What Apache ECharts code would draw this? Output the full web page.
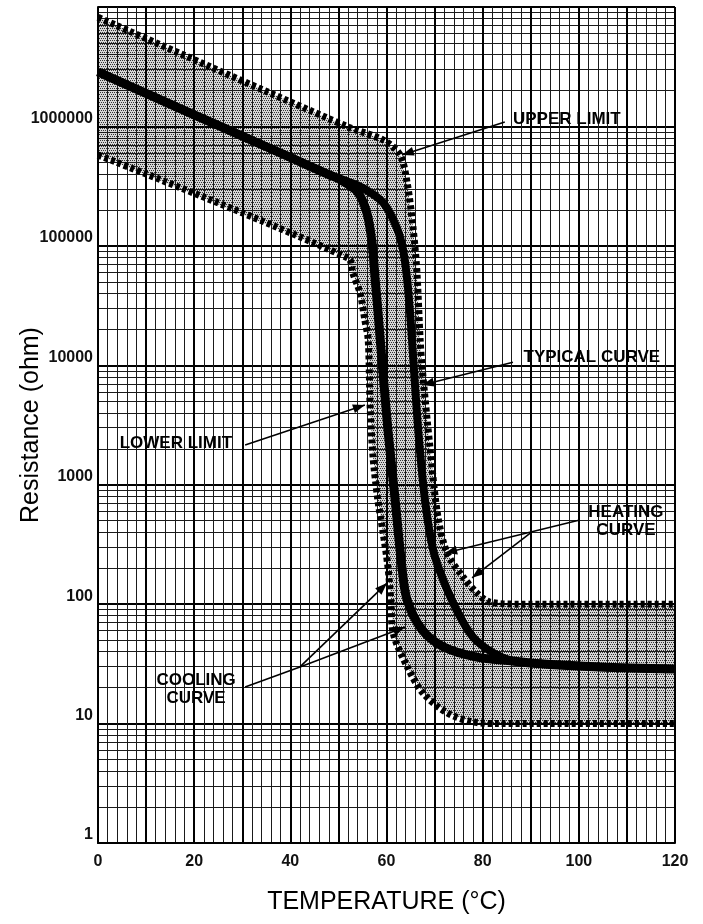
<!DOCTYPE html>
<html>
<head>
<meta charset="utf-8">
<script src="https://cdn.jsdelivr.net/npm/echarts@6/dist/echarts.min.js"></script>
<style>
  html, body { margin: 0; padding: 0; background: #fff; }
  #chart { width: 703px; height: 924px; }
</style>
</head>
<body>
<div id="chart"></div>
<script>
// Typical curve: common low-temperature part, then cooling / heating branches, then the common tail
const sharedTemp = [0, 10, 20, 30, 40, 48];
const sharedOhm  = [2.86e6, 1.89e6, 1.25e6, 8.3e5, 5.5e5, 3.95e5];

const coolingTemp = [50.3, 53.9, 55.9, 57.0, 57.6, 58.2, 58.7, 60.3, 61.8, 63.2, 64.3, 67.4, 71.8, 78.8, 86.3];
const coolingOhm  = [3.6e5, 2.85e5, 1.9e5, 1.06e5, 5.5e4, 2.9e4, 1.63e4, 2870, 745, 205, 108, 61, 44, 36, 33.4];

const heatingTemp = [52.0, 55.1, 59.3, 62.2, 63.5, 64.3, 64.9, 65.3, 66.6, 68.0, 69.7, 71.8, 74.9, 78.0, 82.2, 86.3];
const heatingOhm  = [3.45e5, 3.05e5, 2.3e5, 1.4e5, 9.0e4, 5.2e4, 2.74e4, 1.63e4, 2870, 745, 284, 159, 84, 53, 39, 33.4];

const tailTemp = [90.5, 104.4, 120];
const tailOhm  = [32, 29.8, 28.6];

// Tolerance band
const upperTemp = [0, 52, 59.3, 62.8, 64.3, 65.5, 66.3, 67.0, 67.4, 69.1, 70.7, 72.6, 75.9, 78.8, 81.5, 87.8, 120];
const upperOhm  = [8.2e6, 9.9e5, 7.7e5, 5.8e5, 3.36e5, 1.44e5, 6.3e4, 1.63e4, 9680, 1950, 537, 268, 169, 124, 104, 100, 100];

const lowerTemp = [0, 52, 53, 54.5, 55.5, 56.2, 56.6, 57.2, 58.2, 59.3, 60.3, 60.9, 61.4, 64.3, 67.6, 72.6, 78, 83.6, 120];
const lowerOhm  = [5.77e5, 7.9e4, 5.9e4, 4.03e4, 2.39e4, 1.63e4, 4480, 1707, 745, 394, 205, 108, 57, 30, 18, 12.3, 10.3, 10, 10];

// Axis tick labels
const xTickLabels = [0, 20, 40, 60, 80, 100, 120];
const yTickLabels = [1, 10, 100, 1000, 10000, 100000, 1000000];

// Callout texts (anchor in data space) and their leader arrows
const noteText = ['UPPER LIMIT', 'TYPICAL CURVE', 'LOWER LIMIT', 'HEATING\nCURVE', 'COOLING\nCURVE'];
const noteTemp = [97.5, 102.7, 16.2, 109.8, 20.4];
const noteOhm  = [1.15e6, 1.17e4, 2235, 497, 19.5];

const arrowFromTemp = [84.6, 86.3, 30.6, 100.2, 89.9, 30.6, 42.0, 42.0];
const arrowFromOhm  = [1.09e6, 1.06e4, 2150, 507, 394, 20.2, 29.8, 29.8];
const arrowToTemp   = [63.2, 67.4, 55.5, 72.2, 77.8, 42.0, 63.9, 60.1];
const arrowToOhm    = [5.77e5, 6840, 4650, 268, 166, 29.8, 64.4, 150];
const arrowHead     = [1, 1, 1, 1, 1, 0, 1, 1];

const pairs = (t, r) => t.map((v, i) => [v, r[i]]);

const coolingLine = pairs(sharedTemp, sharedOhm).concat(pairs(coolingTemp, coolingOhm), pairs(tailTemp, tailOhm));
const heatingLine = pairs(sharedTemp, sharedOhm).concat(pairs(heatingTemp, heatingOhm), pairs(tailTemp, tailOhm));
const upperLine = pairs(upperTemp, upperOhm);
const lowerLine = pairs(lowerTemp, lowerOhm);

// Stipple tile for the tolerance band
const tile = document.createElement('canvas');
tile.width = 4; tile.height = 4;
const tg = tile.getContext('2d');
tg.fillStyle = '#d6d6d6';
tg.fillRect(0, 0, 4, 4);
tg.fillStyle = '#333';
[[0, 0], [2, 0], [1, 2], [3, 2]].forEach(p => tg.fillRect(p[0], p[1], 1, 1));

const FONT = '"Liberation Sans", Arial, Helvetica, sans-serif';
const near = (list, v) => list.some(t => Math.abs(t - v) <= Math.abs(t) * 1e-6);

const chart = echarts.init(document.getElementById('chart'), null, { renderer: 'canvas' });

chart.setOption({
  animation: false,
  backgroundColor: '#fff',
  grid: { left: 98, right: 28, top: 7, bottom: 81, containLabel: false, outerBoundsMode: 'none' },
  xAxis: {
    type: 'value', min: 0, max: 120, interval: 10, z: 3,
    name: 'TEMPERATURE (°C)', nameLocation: 'middle', nameGap: 47, nameMoveOverlap: false,
    nameTextStyle: { fontFamily: FONT, fontSize: 25, color: '#000' },
    axisLine: { show: true, lineStyle: { color: '#000', width: 2 } },
    axisTick: { show: false },
    axisLabel: {
      formatter: v => (near(xTickLabels, v) ? String(v) : ''),
      fontFamily: FONT, fontSize: 16, fontWeight: 'bold', color: '#111', margin: 11
    },
    splitLine: { show: true, lineStyle: { color: '#000', width: 2 } },
    minorTick: { show: false, splitNumber: 5 },
    minorSplitLine: { show: true, lineStyle: { color: '#1a1a1a', width: 1 } }
  },
  yAxis: {
    type: 'log', logBase: 10, min: 1, max: 1e7, z: 3,
    name: 'Resistance (ohm)', nameLocation: 'middle', nameGap: 54, nameRotate: 90, nameMoveOverlap: false,
    nameTextStyle: { fontFamily: FONT, fontSize: 25, color: '#000' },
    axisLine: { show: true, lineStyle: { color: '#000', width: 2 } },
    axisTick: { show: false },
    axisLabel: {
      formatter: v => (near(yTickLabels, v) ? String(Math.round(v)) : ''),
      verticalAlign: 'bottom',
      fontFamily: FONT, fontSize: 16, fontWeight: 'bold', color: '#111', margin: 5
    },
    splitLine: { show: true, lineStyle: { color: '#000', width: 2 } },
    minorTick: { show: false, splitNumber: 9 },
    minorSplitLine: { show: true, lineStyle: { color: '#1a1a1a', width: 1 } }
  },
  series: [
    {
      // stippled tolerance band between the limits
      type: 'custom', z: 1, silent: true, clip: true,
      data: [0],
      renderItem: (params, api) => {
        const pts = upperLine.map(p => api.coord(p))
          .concat(lowerLine.slice().reverse().map(p => api.coord(p)));
        return {
          type: 'polygon',
          shape: { points: pts },
          style: { fill: { image: tile, repeat: 'repeat' }, stroke: null }
        };
      }
    },
    {
      name: 'Upper limit', type: 'line', z: 4, data: upperLine, showSymbol: false, smooth: 0.3,
      lineStyle: { color: '#000', width: 7, type: [4, 3] }
    },
    {
      name: 'Lower limit', type: 'line', z: 4, data: lowerLine, showSymbol: false, smooth: 0.3,
      lineStyle: { color: '#000', width: 7, type: [4, 3] }
    },
    {
      name: 'Cooling curve', type: 'line', z: 5, data: coolingLine, showSymbol: false, smooth: 0.3,
      lineStyle: { color: '#000', width: 9, cap: 'butt', join: 'round' }
    },
    {
      name: 'Heating curve', type: 'line', z: 5, data: heatingLine, showSymbol: false, smooth: 0.3,
      lineStyle: { color: '#000', width: 8, cap: 'butt', join: 'round' }
    },
    {
      // leader arrows for the callouts
      type: 'custom', z: 6, silent: true, clip: false,
      data: arrowFromTemp.map((t, i) => [t, arrowFromOhm[i], arrowToTemp[i], arrowToOhm[i], arrowHead[i]]),
      renderItem: (params, api) => {
        const a = api.coord([api.value(0), api.value(1)]);
        const b = api.coord([api.value(2), api.value(3)]);
        const children = [{
          type: 'line',
          shape: { x1: a[0], y1: a[1], x2: b[0], y2: b[1] },
          style: { stroke: '#000', lineWidth: 1.6 }
        }];
        if (api.value(4)) {
          const dx = b[0] - a[0], dy = b[1] - a[1];
          const len = Math.hypot(dx, dy) || 1;
          const ux = dx / len, uy = dy / len;
          const L = 12, W = 4.5;
          const bx = b[0] - ux * L, by = b[1] - uy * L;
          children.push({
            type: 'polygon',
            shape: { points: [[b[0], b[1]], [bx - uy * W, by + ux * W], [bx + uy * W, by - ux * W]] },
            style: { fill: '#000' }
          });
        }
        return { type: 'group', children };
      }
    },
    {
      // callout texts
      type: 'custom', z: 7, silent: true, clip: false,
      data: noteTemp.map((t, i) => [t, noteOhm[i], i]),
      renderItem: (params, api) => {
        const p = api.coord([api.value(0), api.value(1)]);
        return {
          type: 'text',
          x: p[0], y: p[1],
          style: {
            text: noteText[api.value(2)],
            align: 'center', verticalAlign: 'middle',
            font: 'bold 17px ' + FONT,
            lineHeight: 18,
            fill: '#000'
          }
        };
      }
    }
  ]
});
</script>
</body>
</html>
